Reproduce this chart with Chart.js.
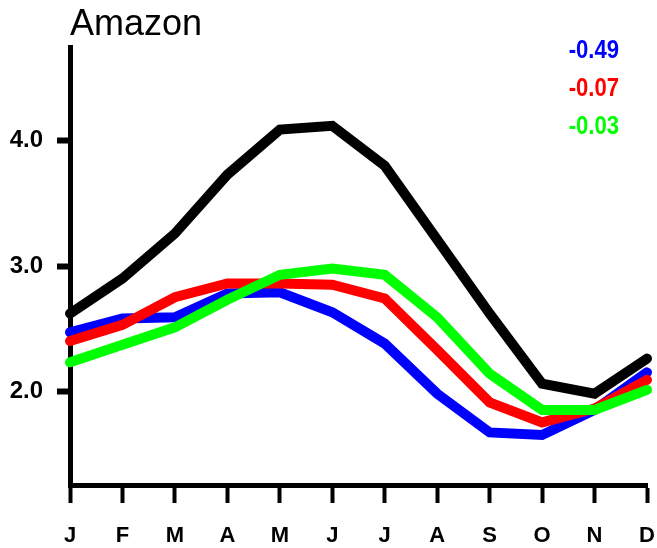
<!DOCTYPE html>
<html>
<head>
<meta charset="utf-8">
<script src="https://cdn.jsdelivr.net/npm/chart.js@4/dist/chart.umd.min.js"></script>
<style>
  html, body { margin: 0; padding: 0; background: #fff; overflow: hidden; }
  #wrap { width: 657px; height: 548px; position: relative; }
</style>
</head>
<body>
<div id="wrap"><canvas id="amazonChart"></canvas></div>
<script>
var months = ['J', 'F', 'M', 'A', 'M', 'J', 'J', 'A', 'S', 'O', 'N', 'D'];
var obs    = [2.62, 2.90, 3.26, 3.73, 4.09, 4.12, 3.80, 3.21, 2.62, 2.06, 1.98, 2.26];
var blue   = [2.47, 2.58, 2.59, 2.78, 2.79, 2.63, 2.38, 1.98, 1.67, 1.65, 1.85, 2.15];
var red    = [2.40, 2.53, 2.75, 2.86, 2.86, 2.85, 2.74, 2.33, 1.91, 1.75, 1.86, 2.09];
var green  = [2.23, 2.37, 2.51, 2.73, 2.93, 2.98, 2.93, 2.59, 2.14, 1.85, 1.85, 2.01];
var corrLabels = ['-0.49', '-0.07', '-0.03'];
var yMajor = [2.0, 3.0, 4.0];
var yMinor = [1.4, 1.6, 1.8, 2.2, 2.4, 2.6, 2.8, 3.2, 3.4, 3.6, 3.8, 4.2, 4.4, 4.6];

var fontFam = "'Liberation Sans', Arial, Helvetica, sans-serif";

// draws the correlation numbers in the top right corner (a bit condensed, like the original)
var corrText = {
    id: 'corrText',
    afterDatasetsDraw: function (chart) {
        var ctx = chart.ctx;
        var area = chart.chartArea;
        var cols = ['#0000ff', '#ff0000', '#00ff00'];
        ctx.save();
        ctx.font = 'bold 26px ' + fontFam;
        ctx.textAlign = 'right';
        ctx.textBaseline = 'middle';
        for (var i = 0; i < corrLabels.length; i++) {
            ctx.save();
            ctx.translate(area.right - 28, area.top + 4 + i * 38);
            ctx.scale(0.85, 1);
            ctx.fillStyle = cols[i];
            ctx.fillText(corrLabels[i], 0, 0);
            ctx.restore();
        }
        ctx.restore();
    }
};

var amazonChart = new Chart(document.getElementById('amazonChart').getContext('2d'), {
    type: 'line',
    data: {
        labels: months,
        datasets: [
            { label: 'obs', data: obs, borderColor: '#000000', order: 3 },
            { label: corrLabels[0], data: blue, borderColor: '#0000ff', order: 2 },
            { label: corrLabels[1], data: red, borderColor: '#ff0000', order: 1 },
            { label: corrLabels[2], data: green, borderColor: '#00ff00', order: 0 }
        ]
    },
    options: {
        responsive: true,
        maintainAspectRatio: false,
        animation: false,
        layout: { padding: { left: 0, right: 10, top: 0, bottom: 0 } },
        elements: {
            line: { borderWidth: 10, tension: 0, fill: false, borderCapStyle: 'round', borderJoinStyle: 'miter' },
            point: { radius: 0, hoverRadius: 0 }
        },
        datasets: { line: { clip: false } },
        plugins: {
            legend: { display: false },
            tooltip: { enabled: false },
            title: {
                display: true,
                text: 'Amazon',
                align: 'start',
                fullSize: false,
                color: '#000',
                font: { family: fontFam, size: 36, weight: 'normal', lineHeight: 1 },
                padding: { top: 7, bottom: 4 }
            }
        },
        scales: {
            x: {
                offset: false,
                grid: { drawOnChartArea: false, drawTicks: true, tickLength: 18, tickWidth: 4, tickColor: '#000' },
                border: { display: true, width: 5, color: '#000' },
                ticks: { color: '#000', autoSkip: false, maxRotation: 0, padding: 20,
                         font: { family: fontFam, size: 22, weight: 'bold' } },
                afterFit: function (s) {
                    s.height = 63;
                    // tick padding would otherwise push the plot in from the right
                    s.paddingLeft = 0;
                    s.paddingRight = 0;
                }
            },
            y: {
                position: 'left',
                min: 1.25,
                max: 4.75,
                afterBuildTicks: function (s) { s.ticks = yMajor.map(function (v) { return { value: v }; }); },
                grid: { drawOnChartArea: false, tickLength: 13, tickWidth: 6, tickColor: '#000' },
                border: { display: true, width: 5, color: '#000' },
                ticks: { color: '#000', padding: 14, font: { family: fontFam, size: 24, weight: 'bold' },
                         callback: function (v) { return v.toFixed(1); } },
                afterFit: function (s) { s.width = 70; }
            },
            yMinor: {
                position: 'left',
                min: 1.25,
                max: 4.75,
                afterBuildTicks: function (s) { s.ticks = yMinor.map(function (v) { return { value: v }; }); },
                grid: { drawOnChartArea: false, tickLength: 7, tickWidth: 3, tickColor: '#000' },
                border: { display: false },
                ticks: { display: false },
                afterFit: function (s) { s.width = 0; }
            }
        }
    },
    plugins: [corrText]
});
</script>
</body>
</html>
